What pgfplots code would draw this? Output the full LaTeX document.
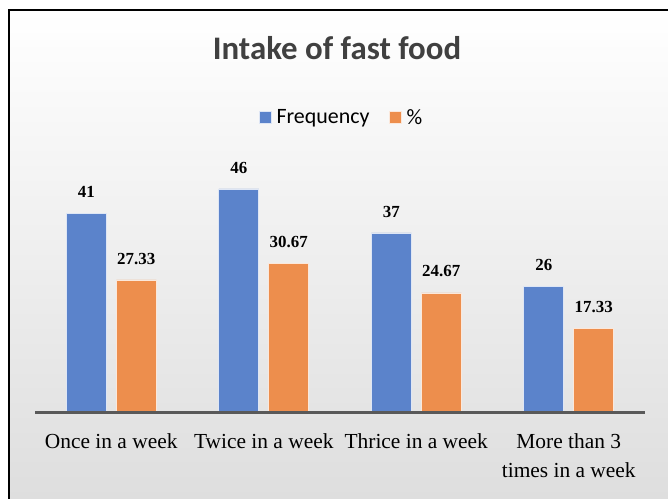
\documentclass[border=0pt]{standalone}
\usepackage{pgfplots}
\pgfplotsset{compat=1.18}
\usepackage{fontspec}
\setmainfont{Liberation Serif}
\newfontfamily\carlito{Carlito}
\definecolor{barblue}{RGB}{91,131,203}
\definecolor{barorange}{RGB}{237,142,77}
\definecolor{titlegray}{RGB}{64,64,64}
\definecolor{axisgray}{RGB}{89,89,89}
\begin{document}
\begin{tikzpicture}[x=1bp,y=1bp]
% page and chart area
\path[use as bounding box] (0,0) rectangle (668,499);
\fill[white] (0,0) rectangle (668,499);
\shade[top color=white, bottom color={rgb,255:red,222;green,222;blue,222}] (9,0) rectangle (668,489);
\draw[black, line width=2.2bp] (9,-2) -- (9,489) -- (670,489);
% title
\node[font={\carlito\bfseries\fontsize{33}{38}\selectfont}, text=titlegray] at (337,451) {Intake of fast food};
\begin{axis}[
  at={(35bp,86bp)}, anchor=south west,
  scale only axis, width=610bp, height=243.5bp,
  xmin=-0.5, xmax=3.5, ymin=0, ymax=50,
  axis line style={draw=none},
  axis x line*=bottom,
  hide y axis,
  ybar=10bp, bar width=40bp,
  xtick={0,1,2,3},
  xticklabels={Once in a week,Twice in a week,Thrice in a week,{More than 3\\times in a week}},
  xtick style={draw=none},
  xticklabel style={font=\fontsize{21.5}{29}\selectfont, align=center, yshift=-13bp},
  nodes near coords,
  every node near coord/.append style={font=\bfseries\fontsize{17}{20}\selectfont, text=black, yshift=12bp},
  point meta=explicit symbolic,
  legend style={at={(0.503,1.213)}, anchor=center, legend columns=2, draw=none, fill=none,
    font={\carlito\fontsize{22}{26}\selectfont}, inner xsep=12bp, inner ysep=8bp,
    /tikz/every odd column/.append style={column sep=2.5bp},
    /tikz/every even column/.append style={column sep=18bp}},
  legend image code/.code={\fill[#1] (0bp,-6bp) rectangle (12bp,6bp);},
  clip=false,
]
\addplot[fill=barblue, draw=white!80!barblue, line width=0.6bp] coordinates {(0,41) [41] (1,46) [46] (2,37) [37] (3,26) [26]};
\addplot[fill=barorange, draw=white!80!barorange, line width=0.6bp] coordinates {(0,27.33) [27.33] (1,30.67) [30.67] (2,24.67) [24.67] (3,17.33) [17.33]};
\legend{Frequency,\%}
\draw[axisgray, line width=3bp] (axis cs:-0.5,0) -- (axis cs:3.5,0);
\end{axis}
\end{tikzpicture}
\end{document}
